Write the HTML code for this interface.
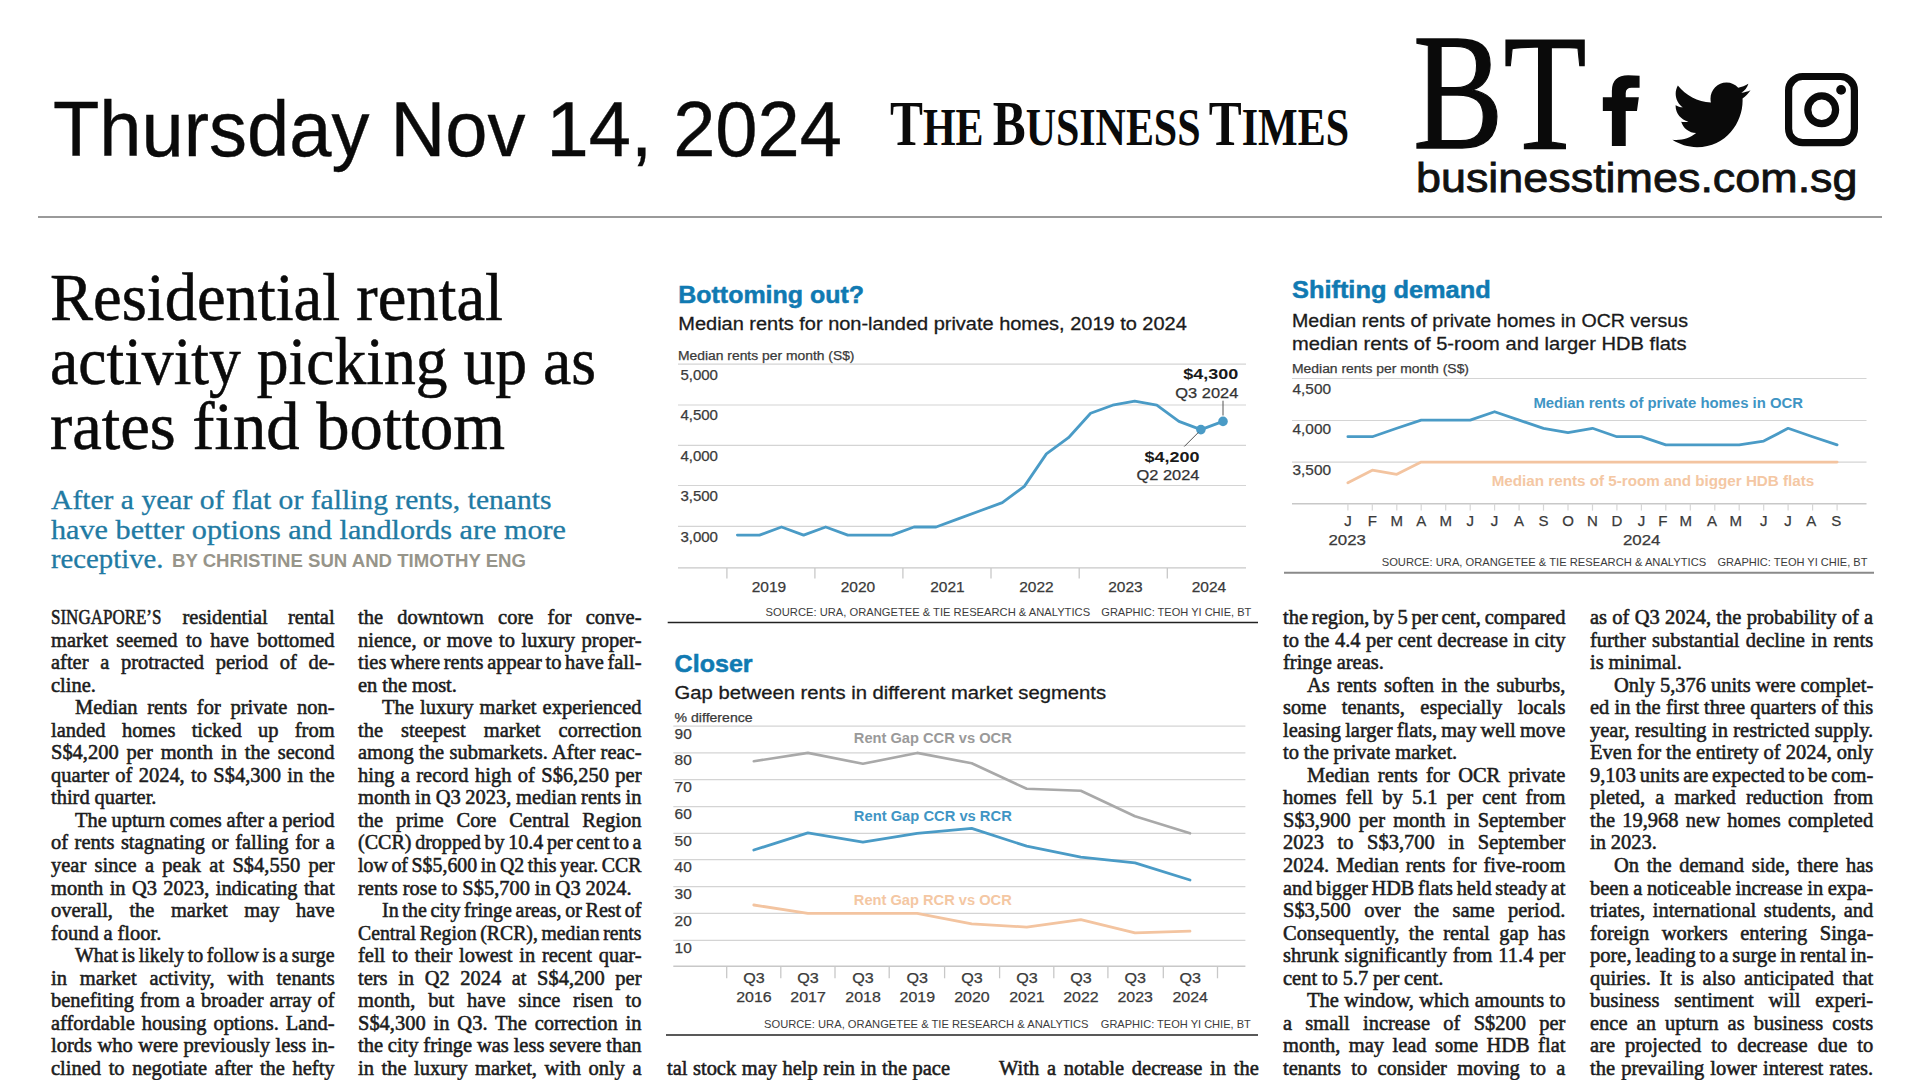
<!DOCTYPE html>
<html lang="en"><head><meta charset="utf-8"><title>The Business Times - Residential rental activity picking up as rates find bottom</title>
<style>
html,body{margin:0;padding:0;background:#fff;}
#page{position:relative;width:1920px;height:1080px;overflow:hidden;background:#fff;}
.t{position:absolute;white-space:pre;transform-origin:0 50%;margin:0;padding:0;}
.b{position:absolute;white-space:pre;transform-origin:0 50%;margin:0;font-family:"Liberation Serif",serif;font-size:21px;line-height:26px;color:#1c1c1c;-webkit-text-stroke:0.55px #1c1c1c;}
.rule{position:absolute;}
svg{position:absolute;left:0;top:0;overflow:visible;}
svg text{font-family:"Liberation Sans",sans-serif;}
</style></head><body>
<div id="page">
<div class="rule" style="left:38px;top:215.6px;width:1844px;height:2px;background:#9a9a9a"></div>
<svg width="1920" height="1080" viewBox="0 0 1920 1080">
<path transform="translate(1590 60) scale(0.14584)" fill="#0a0a0a" d="M340 108 L340 190 L285 190 Q245 190 245 228 L245 255 L335 255 L322 350 L245 350 L245 590 L150 590 L150 350 L88 350 L88 255 L150 255 L150 212 Q150 105 262 105 Q310 105 340 108 Z"/>
<path transform="translate(1672.4 75) scale(0.1527 0.1555)" fill="#0a0a0a" d="M459.37 151.716c.325 4.548.325 9.097.325 13.645 0 138.72-105.583 298.558-298.558 298.558-59.452 0-114.68-17.219-161.137-47.106 8.447.974 16.568 1.299 25.34 1.299 49.055 0 94.213-16.568 130.274-44.832-46.132-.975-84.792-31.188-98.112-72.772 6.498.974 12.995 1.624 19.818 1.624 9.421 0 18.843-1.3 27.614-3.573-48.081-9.747-84.143-51.98-84.143-102.985v-1.299c13.969 7.797 30.214 12.67 47.431 13.319-28.264-18.843-46.781-51.005-46.781-87.391 0-19.492 5.197-37.36 14.294-52.954 51.655 63.675 129.3 105.258 216.365 109.807-1.624-7.797-2.599-15.918-2.599-24.04 0-57.828 46.782-104.934 104.934-104.934 30.213 0 57.502 12.67 76.67 33.137 23.715-4.548 46.456-13.32 66.599-25.34-7.798 24.366-24.366 44.833-46.132 57.827 21.117-2.273 41.584-8.122 60.426-16.243-14.292 20.791-32.161 39.308-52.628 54.253z"/>
<rect x="1788.6" y="76.5" width="65.8" height="66.2" rx="14" ry="14" fill="none" stroke="#0a0a0a" stroke-width="7.2"/>
<circle cx="1821.7" cy="109.8" r="13.9" fill="none" stroke="#0a0a0a" stroke-width="7.2"/>
<circle cx="1841.1" cy="89.9" r="4.9" fill="#0a0a0a"/>
</svg>
<div class="t" style="left:52.5px;top:83.2px;line-height:93.6px;font-family:'Liberation Sans',sans-serif;font-size:78px;font-weight:normal;-webkit-text-stroke:0.4px #0a0a0a;color:#0a0a0a;transform:scaleX(0.9731);">Thursday Nov 14, 2024</div>
<div class="t" style="left:890.0px;top:86.5px;line-height:75.12px;font-family:'Liberation Serif',serif;font-size:62.6px;font-weight:bold;word-spacing:-4px;color:#0a0a0a;transform:scaleX(0.7886);">T<span style="font-size:53.2px">HE</span> B<span style="font-size:53.2px">USINESS</span> T<span style="font-size:53.2px">IMES</span></div>
<div class="t" style="left:1412.6px;top:-6.1px;line-height:198.0px;font-family:'Liberation Serif',serif;font-size:165px;font-weight:normal;-webkit-text-stroke:1.3px #0a0a0a;color:#0a0a0a;transform:scaleX(0.8229);">BT</div>
<div class="t" style="left:1415.8px;top:155.3px;line-height:47.76px;font-family:'Liberation Sans',sans-serif;font-size:39.8px;font-weight:normal;-webkit-text-stroke:0.8px #111;color:#111;transform:scaleX(1.1278);">businesstimes.com.sg</div>
<div class="t" style="left:50.0px;top:256.9px;line-height:80.4px;font-family:'Liberation Serif',serif;font-size:67px;font-weight:normal;-webkit-text-stroke:0.55px #0a0a0a;color:#0a0a0a;transform:scaleX(0.9624);">Residential rental</div>
<div class="t" style="left:50.0px;top:321.4px;line-height:80.4px;font-family:'Liberation Serif',serif;font-size:67px;font-weight:normal;-webkit-text-stroke:0.55px #0a0a0a;color:#0a0a0a;transform:scaleX(0.9496);">activity picking up as</div>
<div class="t" style="left:50.0px;top:386.4px;line-height:80.4px;font-family:'Liberation Serif',serif;font-size:67px;font-weight:normal;-webkit-text-stroke:0.55px #0a0a0a;color:#0a0a0a;transform:scaleX(0.9940);">rates find bottom</div>
<div class="t" style="left:51.0px;top:483.4px;line-height:33.6px;font-family:'Liberation Serif',serif;font-size:28px;font-weight:normal;-webkit-text-stroke:0.3px #217aa3;color:#217aa3;transform:scaleX(1.0571);">After a year of flat or falling rents, tenants</div>
<div class="t" style="left:51.0px;top:513.0px;line-height:33.6px;font-family:'Liberation Serif',serif;font-size:28px;font-weight:normal;-webkit-text-stroke:0.3px #217aa3;color:#217aa3;transform:scaleX(1.0787);">have better options and landlords are more</div>
<div class="t" style="left:51.0px;top:542.2px;line-height:33.6px;font-family:'Liberation Serif',serif;font-size:28px;font-weight:normal;-webkit-text-stroke:0.3px #217aa3;color:#217aa3;transform:scaleX(1.0265);">receptive.</div>
<div class="t" style="left:172.0px;top:550.7px;line-height:21.24px;font-family:'Liberation Sans',sans-serif;font-size:17.7px;font-weight:bold;color:#97958a;transform:scaleX(1.0512);">BY CHRISTINE SUN AND TIMOTHY ENG</div>
<div class="b" style="left:51.0px;top:603.9px;word-spacing:15.47px;transform:scaleX(0.9750)"><span style="display:inline-block;transform:scaleX(.83);transform-origin:0 50%;margin-right:-22.4px">SINGAPORE’S</span> residential rental</div>
<div class="b" style="left:51.0px;top:626.5px;word-spacing:3.32px;transform:scaleX(0.9750)">market seemed to have bottomed</div>
<div class="b" style="left:51.0px;top:649.0px;word-spacing:6.75px;transform:scaleX(0.9750)">after a protracted period of de-</div>
<div class="b" style="left:51.0px;top:671.6px;word-spacing:-0.3px;transform:scaleX(0.9750)">cline.</div>
<div class="b" style="left:75.0px;top:694.1px;word-spacing:4.75px;transform:scaleX(0.9750)">Median rents for private non-</div>
<div class="b" style="left:51.0px;top:716.7px;word-spacing:11.48px;transform:scaleX(0.9750)">landed homes ticked up from</div>
<div class="b" style="left:51.0px;top:739.2px;word-spacing:2.88px;transform:scaleX(0.9750)">S$4,200 per month in the second</div>
<div class="b" style="left:51.0px;top:761.8px;word-spacing:1.23px;transform:scaleX(0.9750)">quarter of 2024, to S$4,300 in the</div>
<div class="b" style="left:51.0px;top:784.3px;word-spacing:-0.3px;transform:scaleX(0.9750)">third quarter.</div>
<div class="b" style="left:75.0px;top:806.9px;word-spacing:-0.51px;transform:scaleX(0.9750)">The upturn comes after a period</div>
<div class="b" style="left:51.0px;top:829.4px;word-spacing:1.44px;transform:scaleX(0.9750)">of rents stagnating or falling for a</div>
<div class="b" style="left:51.0px;top:852.0px;word-spacing:3.29px;transform:scaleX(0.9750)">year since a peak at S$4,550 per</div>
<div class="b" style="left:51.0px;top:874.5px;word-spacing:1.25px;transform:scaleX(0.9750)">month in Q3 2023, indicating that</div>
<div class="b" style="left:51.0px;top:897.1px;word-spacing:11.64px;transform:scaleX(0.9750)">overall, the market may have</div>
<div class="b" style="left:51.0px;top:919.6px;word-spacing:-0.3px;transform:scaleX(0.9750)">found a floor.</div>
<div class="b" style="left:75.0px;top:942.2px;word-spacing:-1.40px;transform:scaleX(0.9479)">What is likely to follow is a surge</div>
<div class="b" style="left:51.0px;top:964.7px;word-spacing:7.89px;transform:scaleX(0.9750)">in market activity, with tenants</div>
<div class="b" style="left:51.0px;top:987.3px;word-spacing:0.92px;transform:scaleX(0.9750)">benefiting from a broader array of</div>
<div class="b" style="left:51.0px;top:1009.8px;word-spacing:1.83px;transform:scaleX(0.9750)">affordable housing options. Land-</div>
<div class="b" style="left:51.0px;top:1032.4px;word-spacing:0.43px;transform:scaleX(0.9750)">lords who were previously less in-</div>
<div class="b" style="left:51.0px;top:1054.9px;word-spacing:2.55px;transform:scaleX(0.9750)">clined to negotiate after the hefty</div>
<div class="b" style="left:358.4px;top:603.9px;word-spacing:9.42px;transform:scaleX(0.9750)">the downtown core for conve-</div>
<div class="b" style="left:358.4px;top:626.5px;word-spacing:1.55px;transform:scaleX(0.9750)">nience, or move to luxury proper-</div>
<div class="b" style="left:358.4px;top:649.0px;word-spacing:-1.40px;transform:scaleX(0.9732)">ties where rents appear to have fall-</div>
<div class="b" style="left:358.4px;top:671.6px;word-spacing:-0.3px;transform:scaleX(0.9750)">en the most.</div>
<div class="b" style="left:382.4px;top:694.1px;word-spacing:1.06px;transform:scaleX(0.9750)">The luxury market experienced</div>
<div class="b" style="left:358.4px;top:716.7px;word-spacing:13.15px;transform:scaleX(0.9750)">the steepest market correction</div>
<div class="b" style="left:358.4px;top:739.2px;word-spacing:0.24px;transform:scaleX(0.9750)">among the submarkets. After reac-</div>
<div class="b" style="left:358.4px;top:761.8px;word-spacing:1.32px;transform:scaleX(0.9750)">hing a record high of S$6,250 per</div>
<div class="b" style="left:358.4px;top:784.3px;word-spacing:-0.44px;transform:scaleX(0.9750)">month in Q3 2023, median rents in</div>
<div class="b" style="left:358.4px;top:806.9px;word-spacing:7.96px;transform:scaleX(0.9750)">the prime Core Central Region</div>
<div class="b" style="left:358.4px;top:829.4px;word-spacing:-1.40px;transform:scaleX(0.9546)">(CCR) dropped by 10.4 per cent to a</div>
<div class="b" style="left:358.4px;top:852.0px;word-spacing:-1.40px;transform:scaleX(0.9451)">low of S$5,600 in Q2 this year. CCR</div>
<div class="b" style="left:358.4px;top:874.5px;word-spacing:-0.3px;transform:scaleX(0.9750)">rents rose to S$5,700 in Q3 2024.</div>
<div class="b" style="left:382.4px;top:897.1px;word-spacing:-1.40px;transform:scaleX(0.9525)">In the city fringe areas, or Rest of</div>
<div class="b" style="left:358.4px;top:919.6px;word-spacing:-1.40px;transform:scaleX(0.9394)">Central Region (RCR), median rents</div>
<div class="b" style="left:358.4px;top:942.2px;word-spacing:1.69px;transform:scaleX(0.9750)">fell to their lowest in recent quar-</div>
<div class="b" style="left:358.4px;top:964.7px;word-spacing:5.59px;transform:scaleX(0.9750)">ters in Q2 2024 at S$4,200 per</div>
<div class="b" style="left:358.4px;top:987.3px;word-spacing:7.76px;transform:scaleX(0.9750)">month, but have since risen to</div>
<div class="b" style="left:358.4px;top:1009.8px;word-spacing:2.82px;transform:scaleX(0.9750)">S$4,300 in Q3. The correction in</div>
<div class="b" style="left:358.4px;top:1032.4px;word-spacing:-0.33px;transform:scaleX(0.9750)">the city fringe was less severe than</div>
<div class="b" style="left:358.4px;top:1054.9px;word-spacing:2.48px;transform:scaleX(0.9750)">in the luxury market, with only a</div>
<div class="b" style="left:667.0px;top:1054.9px;word-spacing:0.40px;transform:scaleX(0.9750)">tal stock may help rein in the pace</div>
<div class="b" style="left:999.0px;top:1054.9px;word-spacing:2.73px;transform:scaleX(0.9750)">With a notable decrease in the</div>
<div class="b" style="left:1282.6px;top:603.9px;word-spacing:-1.29px;transform:scaleX(0.9750)">the region, by 5 per cent, compared</div>
<div class="b" style="left:1282.6px;top:626.5px;word-spacing:0.40px;transform:scaleX(0.9750)">to the 4.4 per cent decrease in city</div>
<div class="b" style="left:1282.6px;top:649.0px;word-spacing:-0.3px;transform:scaleX(0.9750)">fringe areas.</div>
<div class="b" style="left:1306.6px;top:671.6px;word-spacing:2.14px;transform:scaleX(0.9750)">As rents soften in the suburbs,</div>
<div class="b" style="left:1282.6px;top:694.1px;word-spacing:10.63px;transform:scaleX(0.9750)">some tenants, especially locals</div>
<div class="b" style="left:1282.6px;top:716.7px;word-spacing:-1.01px;transform:scaleX(0.9750)">leasing larger flats, may well move</div>
<div class="b" style="left:1282.6px;top:739.2px;word-spacing:-0.3px;transform:scaleX(0.9750)">to the private market.</div>
<div class="b" style="left:1306.6px;top:761.8px;word-spacing:3.27px;transform:scaleX(0.9750)">Median rents for OCR private</div>
<div class="b" style="left:1282.6px;top:784.3px;word-spacing:4.24px;transform:scaleX(0.9750)">homes fell by 5.1 per cent from</div>
<div class="b" style="left:1282.6px;top:806.9px;word-spacing:3.14px;transform:scaleX(0.9750)">S$3,900 per month in September</div>
<div class="b" style="left:1282.6px;top:829.4px;word-spacing:8.68px;transform:scaleX(0.9750)">2023 to S$3,700 in September</div>
<div class="b" style="left:1282.6px;top:852.0px;word-spacing:1.99px;transform:scaleX(0.9750)">2024. Median rents for five-room</div>
<div class="b" style="left:1282.6px;top:874.5px;word-spacing:-1.40px;transform:scaleX(0.9654)">and bigger HDB flats held steady at</div>
<div class="b" style="left:1282.6px;top:897.1px;word-spacing:8.55px;transform:scaleX(0.9750)">S$3,500 over the same period.</div>
<div class="b" style="left:1282.6px;top:919.6px;word-spacing:4.37px;transform:scaleX(0.9750)">Consequently, the rental gap has</div>
<div class="b" style="left:1282.6px;top:942.2px;word-spacing:0.72px;transform:scaleX(0.9750)">shrunk significantly from 11.4 per</div>
<div class="b" style="left:1282.6px;top:964.7px;word-spacing:-0.3px;transform:scaleX(0.9750)">cent to 5.7 per cent.</div>
<div class="b" style="left:1306.6px;top:987.3px;word-spacing:0.25px;transform:scaleX(0.9750)">The window, which amounts to</div>
<div class="b" style="left:1282.6px;top:1009.8px;word-spacing:8.36px;transform:scaleX(0.9750)">a small increase of S$200 per</div>
<div class="b" style="left:1282.6px;top:1032.4px;word-spacing:3.34px;transform:scaleX(0.9750)">month, may lead some HDB flat</div>
<div class="b" style="left:1282.6px;top:1054.9px;word-spacing:5.32px;transform:scaleX(0.9750)">tenants to consider moving to a</div>
<div class="b" style="left:1590.2px;top:603.9px;word-spacing:0.17px;transform:scaleX(0.9750)">as of Q3 2024, the probability of a</div>
<div class="b" style="left:1590.2px;top:626.5px;word-spacing:1.18px;transform:scaleX(0.9750)">further substantial decline in rents</div>
<div class="b" style="left:1590.2px;top:649.0px;word-spacing:-0.3px;transform:scaleX(0.9750)">is minimal.</div>
<div class="b" style="left:1614.2px;top:671.6px;word-spacing:-0.17px;transform:scaleX(0.9750)">Only 5,376 units were complet-</div>
<div class="b" style="left:1590.2px;top:694.1px;word-spacing:0.09px;transform:scaleX(0.9750)">ed in the first three quarters of this</div>
<div class="b" style="left:1590.2px;top:716.7px;word-spacing:0.27px;transform:scaleX(0.9750)">year, resulting in restricted supply.</div>
<div class="b" style="left:1590.2px;top:739.2px;word-spacing:-0.09px;transform:scaleX(0.9750)">Even for the entirety of 2024, only</div>
<div class="b" style="left:1590.2px;top:761.8px;word-spacing:-1.40px;transform:scaleX(0.9740)">9,103 units are expected to be com-</div>
<div class="b" style="left:1590.2px;top:784.3px;word-spacing:5.12px;transform:scaleX(0.9750)">pleted, a marked reduction from</div>
<div class="b" style="left:1590.2px;top:806.9px;word-spacing:2.19px;transform:scaleX(0.9750)">the 19,968 new homes completed</div>
<div class="b" style="left:1590.2px;top:829.4px;word-spacing:-0.3px;transform:scaleX(0.9750)">in 2023.</div>
<div class="b" style="left:1614.2px;top:852.0px;word-spacing:2.55px;transform:scaleX(0.9750)">On the demand side, there has</div>
<div class="b" style="left:1590.2px;top:874.5px;word-spacing:-0.56px;transform:scaleX(0.9750)">been a noticeable increase in expa-</div>
<div class="b" style="left:1590.2px;top:897.1px;word-spacing:2.54px;transform:scaleX(0.9750)">triates, international students, and</div>
<div class="b" style="left:1590.2px;top:919.6px;word-spacing:7.60px;transform:scaleX(0.9750)">foreign workers entering Singa-</div>
<div class="b" style="left:1590.2px;top:942.2px;word-spacing:-1.27px;transform:scaleX(0.9750)">pore, leading to a surge in rental in-</div>
<div class="b" style="left:1590.2px;top:964.7px;word-spacing:3.50px;transform:scaleX(0.9750)">quiries. It is also anticipated that</div>
<div class="b" style="left:1590.2px;top:987.3px;word-spacing:9.91px;transform:scaleX(0.9750)">business sentiment will experi-</div>
<div class="b" style="left:1590.2px;top:1009.8px;word-spacing:4.09px;transform:scaleX(0.9750)">ence an upturn as business costs</div>
<div class="b" style="left:1590.2px;top:1032.4px;word-spacing:5.04px;transform:scaleX(0.9750)">are projected to decrease due to</div>
<div class="b" style="left:1590.2px;top:1054.9px;word-spacing:1.04px;transform:scaleX(0.9750)">the prevailing lower interest rates.</div>
<svg width="1920" height="1080" viewBox="0 0 1920 1080">
<text x="678.3" y="302.9" font-size="23.6" fill="#107ab2" font-weight="bold" textLength="185.7" lengthAdjust="spacingAndGlyphs" stroke="#107ab2" stroke-width="0.5">Bottoming out?</text>
<text x="678.3" y="330.4" font-size="18.9" fill="#1a1a1a" textLength="508.5" lengthAdjust="spacingAndGlyphs" stroke="#1a1a1a" stroke-width="0.3">Median rents for non-landed private homes, 2019 to 2024</text>
<text x="678" y="359.6" font-size="12.5" fill="#3a3a3a" textLength="176.5" lengthAdjust="spacingAndGlyphs" stroke="#3a3a3a" stroke-width="0.25">Median rents per month (S$)</text>
<line x1="678" y1="364.2" x2="1246" y2="364.2" stroke="#d4d4d4" stroke-width="1.2"/>
<text x="680.4" y="379.5" font-size="14.5" fill="#3a3a3a" textLength="37.6" lengthAdjust="spacingAndGlyphs" stroke="#3a3a3a" stroke-width="0.25">5,000</text>
<line x1="678" y1="405" x2="1246" y2="405" stroke="#d4d4d4" stroke-width="1.2"/>
<text x="680.4" y="420.3" font-size="14.5" fill="#3a3a3a" textLength="37.6" lengthAdjust="spacingAndGlyphs" stroke="#3a3a3a" stroke-width="0.25">4,500</text>
<line x1="678" y1="445.4" x2="1246" y2="445.4" stroke="#d4d4d4" stroke-width="1.2"/>
<text x="680.4" y="460.7" font-size="14.5" fill="#3a3a3a" textLength="37.6" lengthAdjust="spacingAndGlyphs" stroke="#3a3a3a" stroke-width="0.25">4,000</text>
<line x1="678" y1="485.5" x2="1246" y2="485.5" stroke="#d4d4d4" stroke-width="1.2"/>
<text x="680.4" y="500.8" font-size="14.5" fill="#3a3a3a" textLength="37.6" lengthAdjust="spacingAndGlyphs" stroke="#3a3a3a" stroke-width="0.25">3,500</text>
<line x1="678" y1="526.4" x2="1246" y2="526.4" stroke="#d4d4d4" stroke-width="1.2"/>
<text x="680.4" y="541.7" font-size="14.5" fill="#3a3a3a" textLength="37.6" lengthAdjust="spacingAndGlyphs" stroke="#3a3a3a" stroke-width="0.25">3,000</text>
<line x1="678" y1="567.9" x2="1246" y2="567.9" stroke="#c8c8c8" stroke-width="1.4"/>
<line x1="726.9" y1="567.9" x2="726.9" y2="578.6" stroke="#c8c8c8" stroke-width="1.3"/>
<line x1="814.9" y1="567.9" x2="814.9" y2="578.6" stroke="#c8c8c8" stroke-width="1.3"/>
<line x1="902.9" y1="567.9" x2="902.9" y2="578.6" stroke="#c8c8c8" stroke-width="1.3"/>
<line x1="991" y1="567.9" x2="991" y2="578.6" stroke="#c8c8c8" stroke-width="1.3"/>
<line x1="1079.2" y1="567.9" x2="1079.2" y2="578.6" stroke="#c8c8c8" stroke-width="1.3"/>
<line x1="1167.3" y1="567.9" x2="1167.3" y2="578.6" stroke="#c8c8c8" stroke-width="1.3"/>
<text x="769" y="591.8" font-size="15.5" fill="#3a3a3a" text-anchor="middle" textLength="34.5" lengthAdjust="spacingAndGlyphs" stroke="#3a3a3a" stroke-width="0.25">2019</text>
<text x="858" y="591.8" font-size="15.5" fill="#3a3a3a" text-anchor="middle" textLength="34.5" lengthAdjust="spacingAndGlyphs" stroke="#3a3a3a" stroke-width="0.25">2020</text>
<text x="947.5" y="591.8" font-size="15.5" fill="#3a3a3a" text-anchor="middle" textLength="34.5" lengthAdjust="spacingAndGlyphs" stroke="#3a3a3a" stroke-width="0.25">2021</text>
<text x="1036.5" y="591.8" font-size="15.5" fill="#3a3a3a" text-anchor="middle" textLength="34.5" lengthAdjust="spacingAndGlyphs" stroke="#3a3a3a" stroke-width="0.25">2022</text>
<text x="1125.5" y="591.8" font-size="15.5" fill="#3a3a3a" text-anchor="middle" textLength="34.5" lengthAdjust="spacingAndGlyphs" stroke="#3a3a3a" stroke-width="0.25">2023</text>
<text x="1209" y="591.8" font-size="15.5" fill="#3a3a3a" text-anchor="middle" textLength="34.5" lengthAdjust="spacingAndGlyphs" stroke="#3a3a3a" stroke-width="0.25">2024</text>
<path d="M737.4 535.1 L759.5 535.1 L781.5 527 L803.6 535.1 L825.7 527 L847.8 535.1 L869.8 535.1 L891.9 535.1 L914 527 L936.1 527 L958.1 518.9 L980.2 510.8 L1002.3 502.6 L1024.3 486.4 L1046.4 453.9 L1068.5 437.7 L1090.6 413.3 L1112.6 405.2 L1134.7 401.1 L1156.8 405.2 L1178.9 421.4 L1200.9 429.6 L1223 421.4" fill="none" stroke="#4a9bc6" stroke-width="2.8" stroke-linejoin="round" stroke-linecap="round"/>
<circle cx="1200.9" cy="429.6" r="4.8" fill="#4a9bc6"/>
<circle cx="1223" cy="421.4" r="4.8" fill="#4a9bc6"/>
<line x1="1223" y1="400.7" x2="1223" y2="415.5" stroke="#555" stroke-width="1"/>
<line x1="1198.4" y1="432.4" x2="1184.3" y2="446.5" stroke="#555" stroke-width="1"/>
<text x="1238.3" y="379.2" font-size="15.5" fill="#1a1a1a" font-weight="bold" text-anchor="end" textLength="55" lengthAdjust="spacingAndGlyphs">$4,300</text>
<text x="1238.3" y="398.4" font-size="15" fill="#333" text-anchor="end" textLength="63" lengthAdjust="spacingAndGlyphs" stroke="#333" stroke-width="0.25">Q3 2024</text>
<text x="1199.5" y="461.6" font-size="15.5" fill="#1a1a1a" font-weight="bold" text-anchor="end" textLength="55" lengthAdjust="spacingAndGlyphs">$4,200</text>
<text x="1199.5" y="480.2" font-size="15" fill="#333" text-anchor="end" textLength="63" lengthAdjust="spacingAndGlyphs" stroke="#333" stroke-width="0.25">Q2 2024</text>
<text x="765.6" y="616.3" font-size="10.5" fill="#3c3c3c" textLength="324.5" lengthAdjust="spacingAndGlyphs" >SOURCE: URA, ORANGETEE &amp; TIE RESEARCH &amp; ANALYTICS</text>
<text x="1251.3" y="616.3" font-size="10.5" fill="#3c3c3c" text-anchor="end" textLength="150" lengthAdjust="spacingAndGlyphs" >GRAPHIC: TEOH YI CHIE, BT</text>
<line x1="667.7" y1="622.5" x2="1258" y2="622.5" stroke="#222" stroke-width="1.6"/>
<text x="674.6" y="671.7" font-size="23.6" fill="#107ab2" font-weight="bold" textLength="78" lengthAdjust="spacingAndGlyphs" stroke="#107ab2" stroke-width="0.5">Closer</text>
<text x="674.6" y="698.8" font-size="18.9" fill="#1a1a1a" textLength="431.5" lengthAdjust="spacingAndGlyphs" stroke="#1a1a1a" stroke-width="0.3">Gap between rents in different market segments</text>
<text x="674.6" y="721.6" font-size="12.5" fill="#3a3a3a" textLength="78" lengthAdjust="spacingAndGlyphs" stroke="#3a3a3a" stroke-width="0.25">% difference</text>
<line x1="673.3" y1="726.2" x2="1245.4" y2="726.2" stroke="#d4d4d4" stroke-width="1.2"/>
<text x="674.6" y="738.8" font-size="14.5" fill="#3a3a3a" textLength="17.2" lengthAdjust="spacingAndGlyphs" stroke="#3a3a3a" stroke-width="0.25">90</text>
<line x1="673.3" y1="752.9" x2="1245.4" y2="752.9" stroke="#d4d4d4" stroke-width="1.2"/>
<text x="674.6" y="765.4" font-size="14.5" fill="#3a3a3a" textLength="17.2" lengthAdjust="spacingAndGlyphs" stroke="#3a3a3a" stroke-width="0.25">80</text>
<line x1="673.3" y1="779.6" x2="1245.4" y2="779.6" stroke="#d4d4d4" stroke-width="1.2"/>
<text x="674.6" y="792.1" font-size="14.5" fill="#3a3a3a" textLength="17.2" lengthAdjust="spacingAndGlyphs" stroke="#3a3a3a" stroke-width="0.25">70</text>
<line x1="673.3" y1="806.7" x2="1245.4" y2="806.7" stroke="#d4d4d4" stroke-width="1.2"/>
<text x="674.6" y="819.2" font-size="14.5" fill="#3a3a3a" textLength="17.2" lengthAdjust="spacingAndGlyphs" stroke="#3a3a3a" stroke-width="0.25">60</text>
<line x1="673.3" y1="833.3" x2="1245.4" y2="833.3" stroke="#d4d4d4" stroke-width="1.2"/>
<text x="674.6" y="845.8" font-size="14.5" fill="#3a3a3a" textLength="17.2" lengthAdjust="spacingAndGlyphs" stroke="#3a3a3a" stroke-width="0.25">50</text>
<line x1="673.3" y1="859.6" x2="1245.4" y2="859.6" stroke="#d4d4d4" stroke-width="1.2"/>
<text x="674.6" y="872.1" font-size="14.5" fill="#3a3a3a" textLength="17.2" lengthAdjust="spacingAndGlyphs" stroke="#3a3a3a" stroke-width="0.25">40</text>
<line x1="673.3" y1="886.7" x2="1245.4" y2="886.7" stroke="#d4d4d4" stroke-width="1.2"/>
<text x="674.6" y="899.2" font-size="14.5" fill="#3a3a3a" textLength="17.2" lengthAdjust="spacingAndGlyphs" stroke="#3a3a3a" stroke-width="0.25">30</text>
<line x1="673.3" y1="913.3" x2="1245.4" y2="913.3" stroke="#d4d4d4" stroke-width="1.2"/>
<text x="674.6" y="925.8" font-size="14.5" fill="#3a3a3a" textLength="17.2" lengthAdjust="spacingAndGlyphs" stroke="#3a3a3a" stroke-width="0.25">20</text>
<line x1="673.3" y1="940.4" x2="1245.4" y2="940.4" stroke="#d4d4d4" stroke-width="1.2"/>
<text x="674.6" y="952.9" font-size="14.5" fill="#3a3a3a" textLength="17.2" lengthAdjust="spacingAndGlyphs" stroke="#3a3a3a" stroke-width="0.25">10</text>
<line x1="673.3" y1="966.2" x2="1245.4" y2="966.2" stroke="#c8c8c8" stroke-width="1.4"/>
<line x1="726.7" y1="966.8" x2="726.7" y2="978.3" stroke="#c8c8c8" stroke-width="1.3"/>
<line x1="780.8" y1="966.8" x2="780.8" y2="978.3" stroke="#c8c8c8" stroke-width="1.3"/>
<line x1="835" y1="966.8" x2="835" y2="978.3" stroke="#c8c8c8" stroke-width="1.3"/>
<line x1="889.2" y1="966.8" x2="889.2" y2="978.3" stroke="#c8c8c8" stroke-width="1.3"/>
<line x1="944.6" y1="966.8" x2="944.6" y2="978.3" stroke="#c8c8c8" stroke-width="1.3"/>
<line x1="999.6" y1="966.8" x2="999.6" y2="978.3" stroke="#c8c8c8" stroke-width="1.3"/>
<line x1="1053.8" y1="966.8" x2="1053.8" y2="978.3" stroke="#c8c8c8" stroke-width="1.3"/>
<line x1="1107.9" y1="966.8" x2="1107.9" y2="978.3" stroke="#c8c8c8" stroke-width="1.3"/>
<line x1="1163.3" y1="966.8" x2="1163.3" y2="978.3" stroke="#c8c8c8" stroke-width="1.3"/>
<line x1="1217.5" y1="966.8" x2="1217.5" y2="978.3" stroke="#c8c8c8" stroke-width="1.3"/>
<text x="754" y="983" font-size="15.5" fill="#3a3a3a" text-anchor="middle" textLength="21.5" lengthAdjust="spacingAndGlyphs" stroke="#3a3a3a" stroke-width="0.25">Q3</text>
<text x="754" y="1001.7" font-size="15.5" fill="#3a3a3a" text-anchor="middle" textLength="35.5" lengthAdjust="spacingAndGlyphs" stroke="#3a3a3a" stroke-width="0.25">2016</text>
<text x="808.1" y="983" font-size="15.5" fill="#3a3a3a" text-anchor="middle" textLength="21.5" lengthAdjust="spacingAndGlyphs" stroke="#3a3a3a" stroke-width="0.25">Q3</text>
<text x="808.1" y="1001.7" font-size="15.5" fill="#3a3a3a" text-anchor="middle" textLength="35.5" lengthAdjust="spacingAndGlyphs" stroke="#3a3a3a" stroke-width="0.25">2017</text>
<text x="863.1" y="983" font-size="15.5" fill="#3a3a3a" text-anchor="middle" textLength="21.5" lengthAdjust="spacingAndGlyphs" stroke="#3a3a3a" stroke-width="0.25">Q3</text>
<text x="863.1" y="1001.7" font-size="15.5" fill="#3a3a3a" text-anchor="middle" textLength="35.5" lengthAdjust="spacingAndGlyphs" stroke="#3a3a3a" stroke-width="0.25">2018</text>
<text x="917.3" y="983" font-size="15.5" fill="#3a3a3a" text-anchor="middle" textLength="21.5" lengthAdjust="spacingAndGlyphs" stroke="#3a3a3a" stroke-width="0.25">Q3</text>
<text x="917.3" y="1001.7" font-size="15.5" fill="#3a3a3a" text-anchor="middle" textLength="35.5" lengthAdjust="spacingAndGlyphs" stroke="#3a3a3a" stroke-width="0.25">2019</text>
<text x="971.9" y="983" font-size="15.5" fill="#3a3a3a" text-anchor="middle" textLength="21.5" lengthAdjust="spacingAndGlyphs" stroke="#3a3a3a" stroke-width="0.25">Q3</text>
<text x="971.9" y="1001.7" font-size="15.5" fill="#3a3a3a" text-anchor="middle" textLength="35.5" lengthAdjust="spacingAndGlyphs" stroke="#3a3a3a" stroke-width="0.25">2020</text>
<text x="1026.9" y="983" font-size="15.5" fill="#3a3a3a" text-anchor="middle" textLength="21.5" lengthAdjust="spacingAndGlyphs" stroke="#3a3a3a" stroke-width="0.25">Q3</text>
<text x="1026.9" y="1001.7" font-size="15.5" fill="#3a3a3a" text-anchor="middle" textLength="35.5" lengthAdjust="spacingAndGlyphs" stroke="#3a3a3a" stroke-width="0.25">2021</text>
<text x="1081" y="983" font-size="15.5" fill="#3a3a3a" text-anchor="middle" textLength="21.5" lengthAdjust="spacingAndGlyphs" stroke="#3a3a3a" stroke-width="0.25">Q3</text>
<text x="1081" y="1001.7" font-size="15.5" fill="#3a3a3a" text-anchor="middle" textLength="35.5" lengthAdjust="spacingAndGlyphs" stroke="#3a3a3a" stroke-width="0.25">2022</text>
<text x="1135.2" y="983" font-size="15.5" fill="#3a3a3a" text-anchor="middle" textLength="21.5" lengthAdjust="spacingAndGlyphs" stroke="#3a3a3a" stroke-width="0.25">Q3</text>
<text x="1135.2" y="1001.7" font-size="15.5" fill="#3a3a3a" text-anchor="middle" textLength="35.5" lengthAdjust="spacingAndGlyphs" stroke="#3a3a3a" stroke-width="0.25">2023</text>
<text x="1190.2" y="983" font-size="15.5" fill="#3a3a3a" text-anchor="middle" textLength="21.5" lengthAdjust="spacingAndGlyphs" stroke="#3a3a3a" stroke-width="0.25">Q3</text>
<text x="1190.2" y="1001.7" font-size="15.5" fill="#3a3a3a" text-anchor="middle" textLength="35.5" lengthAdjust="spacingAndGlyphs" stroke="#3a3a3a" stroke-width="0.25">2024</text>
<path d="M753.8 761.2 L807.9 752.9 L862.9 763.8 L917.1 752.9 L971.7 763.3 L1026.7 788.8 L1080.8 790.8 L1135 816.2 L1190 833.3" fill="none" stroke="#a9a9a9" stroke-width="2.6" stroke-linejoin="round" stroke-linecap="round"/>
<path d="M753.8 850 L807.9 832.9 L862.9 842.1 L917.1 833.3 L971.7 828.3 L1026.7 846.2 L1080.8 857.1 L1135 862.9 L1190 880" fill="none" stroke="#4a9bc6" stroke-width="2.8" stroke-linejoin="round" stroke-linecap="round"/>
<path d="M753.8 905 L807.9 913.3 L862.9 913.3 L917.1 913.3 L971.7 923.8 L1026.7 927.1 L1080.8 919.6 L1135 932.9 L1190 931.2" fill="none" stroke="#f3c4a0" stroke-width="2.8" stroke-linejoin="round" stroke-linecap="round"/>
<text x="853.8" y="742.6" font-size="14.5" fill="#9a9a9a" font-weight="bold" textLength="158" lengthAdjust="spacingAndGlyphs">Rent Gap CCR vs OCR</text>
<text x="853.8" y="820.9" font-size="14.5" fill="#3f95c4" font-weight="bold" textLength="158" lengthAdjust="spacingAndGlyphs">Rent Gap CCR vs RCR</text>
<text x="853.8" y="905" font-size="14.5" fill="#f4c7a3" font-weight="bold" textLength="158" lengthAdjust="spacingAndGlyphs">Rent Gap RCR vs OCR</text>
<text x="764" y="1028" font-size="10.5" fill="#3c3c3c" textLength="324.5" lengthAdjust="spacingAndGlyphs" >SOURCE: URA, ORANGETEE &amp; TIE RESEARCH &amp; ANALYTICS</text>
<text x="1250.8" y="1028" font-size="10.5" fill="#3c3c3c" text-anchor="end" textLength="150" lengthAdjust="spacingAndGlyphs" >GRAPHIC: TEOH YI CHIE, BT</text>
<line x1="666" y1="1035" x2="1258" y2="1035" stroke="#222" stroke-width="1.6"/>
<text x="1292" y="298.3" font-size="23.3" fill="#107ab2" font-weight="bold" textLength="198.7" lengthAdjust="spacingAndGlyphs" stroke="#107ab2" stroke-width="0.5">Shifting demand</text>
<text x="1292" y="326.7" font-size="18.2" fill="#1a1a1a" textLength="396" lengthAdjust="spacingAndGlyphs" stroke="#1a1a1a" stroke-width="0.3">Median rents of private homes in OCR versus</text>
<text x="1292" y="349.7" font-size="18.2" fill="#1a1a1a" textLength="394.5" lengthAdjust="spacingAndGlyphs" stroke="#1a1a1a" stroke-width="0.3">median rents of 5-room and larger HDB flats</text>
<text x="1292" y="373.4" font-size="12.5" fill="#3a3a3a" textLength="177" lengthAdjust="spacingAndGlyphs" stroke="#3a3a3a" stroke-width="0.25">Median rents per month (S$)</text>
<line x1="1292" y1="378.5" x2="1866.5" y2="378.5" stroke="#d4d4d4" stroke-width="1.2"/>
<text x="1292.5" y="393.7" font-size="14.5" fill="#3a3a3a" textLength="38.5" lengthAdjust="spacingAndGlyphs" stroke="#3a3a3a" stroke-width="0.25">4,500</text>
<line x1="1292" y1="420.5" x2="1866.5" y2="420.5" stroke="#d4d4d4" stroke-width="1.2"/>
<text x="1292.5" y="433.8" font-size="14.5" fill="#3a3a3a" textLength="38.5" lengthAdjust="spacingAndGlyphs" stroke="#3a3a3a" stroke-width="0.25">4,000</text>
<line x1="1292" y1="462.1" x2="1866.5" y2="462.1" stroke="#d4d4d4" stroke-width="1.2"/>
<text x="1292.5" y="474.6" font-size="14.5" fill="#3a3a3a" textLength="38.5" lengthAdjust="spacingAndGlyphs" stroke="#3a3a3a" stroke-width="0.25">3,500</text>
<line x1="1292" y1="503.8" x2="1866.5" y2="503.8" stroke="#c8c8c8" stroke-width="1.4"/>
<line x1="1347.9" y1="503.8" x2="1347.9" y2="510.6" stroke="#d6d6d6" stroke-width="1.2"/>
<text x="1347.9" y="525.8" font-size="15" fill="#3a3a3a" text-anchor="middle" stroke="#3a3a3a" stroke-width="0.25">J</text>
<line x1="1372.3" y1="503.8" x2="1372.3" y2="510.6" stroke="#d6d6d6" stroke-width="1.2"/>
<text x="1372.3" y="525.8" font-size="15" fill="#3a3a3a" text-anchor="middle" stroke="#3a3a3a" stroke-width="0.25">F</text>
<line x1="1396.8" y1="503.8" x2="1396.8" y2="510.6" stroke="#d6d6d6" stroke-width="1.2"/>
<text x="1396.8" y="525.8" font-size="15" fill="#3a3a3a" text-anchor="middle" stroke="#3a3a3a" stroke-width="0.25">M</text>
<line x1="1421.2" y1="503.8" x2="1421.2" y2="510.6" stroke="#d6d6d6" stroke-width="1.2"/>
<text x="1421.2" y="525.8" font-size="15" fill="#3a3a3a" text-anchor="middle" stroke="#3a3a3a" stroke-width="0.25">A</text>
<line x1="1445.7" y1="503.8" x2="1445.7" y2="510.6" stroke="#d6d6d6" stroke-width="1.2"/>
<text x="1445.7" y="525.8" font-size="15" fill="#3a3a3a" text-anchor="middle" stroke="#3a3a3a" stroke-width="0.25">M</text>
<line x1="1470.2" y1="503.8" x2="1470.2" y2="510.6" stroke="#d6d6d6" stroke-width="1.2"/>
<text x="1470.2" y="525.8" font-size="15" fill="#3a3a3a" text-anchor="middle" stroke="#3a3a3a" stroke-width="0.25">J</text>
<line x1="1494.6" y1="503.8" x2="1494.6" y2="510.6" stroke="#d6d6d6" stroke-width="1.2"/>
<text x="1494.6" y="525.8" font-size="15" fill="#3a3a3a" text-anchor="middle" stroke="#3a3a3a" stroke-width="0.25">J</text>
<line x1="1519.1" y1="503.8" x2="1519.1" y2="510.6" stroke="#d6d6d6" stroke-width="1.2"/>
<text x="1519.1" y="525.8" font-size="15" fill="#3a3a3a" text-anchor="middle" stroke="#3a3a3a" stroke-width="0.25">A</text>
<line x1="1543.5" y1="503.8" x2="1543.5" y2="510.6" stroke="#d6d6d6" stroke-width="1.2"/>
<text x="1543.5" y="525.8" font-size="15" fill="#3a3a3a" text-anchor="middle" stroke="#3a3a3a" stroke-width="0.25">S</text>
<line x1="1568" y1="503.8" x2="1568" y2="510.6" stroke="#d6d6d6" stroke-width="1.2"/>
<text x="1568" y="525.8" font-size="15" fill="#3a3a3a" text-anchor="middle" stroke="#3a3a3a" stroke-width="0.25">O</text>
<line x1="1592.5" y1="503.8" x2="1592.5" y2="510.6" stroke="#d6d6d6" stroke-width="1.2"/>
<text x="1592.5" y="525.8" font-size="15" fill="#3a3a3a" text-anchor="middle" stroke="#3a3a3a" stroke-width="0.25">N</text>
<line x1="1616.9" y1="503.8" x2="1616.9" y2="510.6" stroke="#d6d6d6" stroke-width="1.2"/>
<text x="1616.9" y="525.8" font-size="15" fill="#3a3a3a" text-anchor="middle" stroke="#3a3a3a" stroke-width="0.25">D</text>
<line x1="1641.4" y1="503.8" x2="1641.4" y2="510.6" stroke="#d6d6d6" stroke-width="1.2"/>
<text x="1641.4" y="525.8" font-size="15" fill="#3a3a3a" text-anchor="middle" stroke="#3a3a3a" stroke-width="0.25">J</text>
<line x1="1665.8" y1="503.8" x2="1665.8" y2="510.6" stroke="#d6d6d6" stroke-width="1.2"/>
<text x="1662.9" y="525.8" font-size="15" fill="#3a3a3a" text-anchor="middle" stroke="#3a3a3a" stroke-width="0.25">F</text>
<line x1="1690.3" y1="503.8" x2="1690.3" y2="510.6" stroke="#d6d6d6" stroke-width="1.2"/>
<text x="1685.8" y="525.8" font-size="15" fill="#3a3a3a" text-anchor="middle" stroke="#3a3a3a" stroke-width="0.25">M</text>
<line x1="1714.8" y1="503.8" x2="1714.8" y2="510.6" stroke="#d6d6d6" stroke-width="1.2"/>
<text x="1711.9" y="525.8" font-size="15" fill="#3a3a3a" text-anchor="middle" stroke="#3a3a3a" stroke-width="0.25">A</text>
<line x1="1739.2" y1="503.8" x2="1739.2" y2="510.6" stroke="#d6d6d6" stroke-width="1.2"/>
<text x="1735.7" y="525.8" font-size="15" fill="#3a3a3a" text-anchor="middle" stroke="#3a3a3a" stroke-width="0.25">M</text>
<line x1="1763.7" y1="503.8" x2="1763.7" y2="510.6" stroke="#d6d6d6" stroke-width="1.2"/>
<text x="1763.7" y="525.8" font-size="15" fill="#3a3a3a" text-anchor="middle" stroke="#3a3a3a" stroke-width="0.25">J</text>
<line x1="1788.1" y1="503.8" x2="1788.1" y2="510.6" stroke="#d6d6d6" stroke-width="1.2"/>
<text x="1788.1" y="525.8" font-size="15" fill="#3a3a3a" text-anchor="middle" stroke="#3a3a3a" stroke-width="0.25">J</text>
<line x1="1812.6" y1="503.8" x2="1812.6" y2="510.6" stroke="#d6d6d6" stroke-width="1.2"/>
<text x="1811.2" y="525.8" font-size="15" fill="#3a3a3a" text-anchor="middle" stroke="#3a3a3a" stroke-width="0.25">A</text>
<line x1="1837.1" y1="503.8" x2="1837.1" y2="510.6" stroke="#d6d6d6" stroke-width="1.2"/>
<text x="1836.3" y="525.8" font-size="15" fill="#3a3a3a" text-anchor="middle" stroke="#3a3a3a" stroke-width="0.25">S</text>
<text x="1347.2" y="545.4" font-size="15.5" fill="#3a3a3a" text-anchor="middle" textLength="37.5" lengthAdjust="spacingAndGlyphs" stroke="#3a3a3a" stroke-width="0.25">2023</text>
<text x="1641.7" y="545.4" font-size="15.5" fill="#3a3a3a" text-anchor="middle" textLength="37.5" lengthAdjust="spacingAndGlyphs" stroke="#3a3a3a" stroke-width="0.25">2024</text>
<path d="M1347.9 482.8 L1372.3 470.2 L1396.8 474.3 L1421.2 462.1 L1445.7 462.1 L1470.2 462.1 L1494.6 462.1 L1519.1 462.1 L1543.5 462.1 L1568 462.1 L1592.5 462.1 L1616.9 462.1 L1641.4 462.1 L1665.8 462.1 L1690.3 462.1 L1714.8 462.1 L1739.2 462.1 L1763.7 462.1 L1788.1 462.1 L1812.6 462.1 L1837.1 462.1" fill="none" stroke="#f3c4a0" stroke-width="2.8" stroke-linejoin="round" stroke-linecap="round"/>
<path d="M1347.9 436.7 L1372.3 436.7 L1396.8 428.3 L1421.2 420.1 L1445.7 420.1 L1470.2 420.1 L1494.6 411.7 L1519.1 420.1 L1543.5 428.3 L1568 432.7 L1592.5 428.3 L1616.9 436.7 L1641.4 436.7 L1665.8 444.8 L1690.3 444.8 L1714.8 444.8 L1739.2 444.8 L1763.7 441.1 L1788.1 428.3 L1812.6 436.7 L1837.1 444.8" fill="none" stroke="#4a9bc6" stroke-width="2.8" stroke-linejoin="round" stroke-linecap="round"/>
<text x="1533.4" y="408" font-size="14" fill="#3f95c4" font-weight="bold" textLength="269.6" lengthAdjust="spacingAndGlyphs">Median rents of private homes in OCR</text>
<text x="1491.7" y="485.8" font-size="14" fill="#f4c7a3" font-weight="bold" textLength="322.6" lengthAdjust="spacingAndGlyphs">Median rents of 5-room and bigger HDB flats</text>
<text x="1381.7" y="565.5" font-size="10.5" fill="#3c3c3c" textLength="324.5" lengthAdjust="spacingAndGlyphs" >SOURCE: URA, ORANGETEE &amp; TIE RESEARCH &amp; ANALYTICS</text>
<text x="1867.5" y="565.5" font-size="10.5" fill="#3c3c3c" text-anchor="end" textLength="150" lengthAdjust="spacingAndGlyphs" >GRAPHIC: TEOH YI CHIE, BT</text>
<line x1="1284" y1="572.7" x2="1874" y2="572.7" stroke="#8a8a8a" stroke-width="2"/>
</svg>
</div></body></html>
